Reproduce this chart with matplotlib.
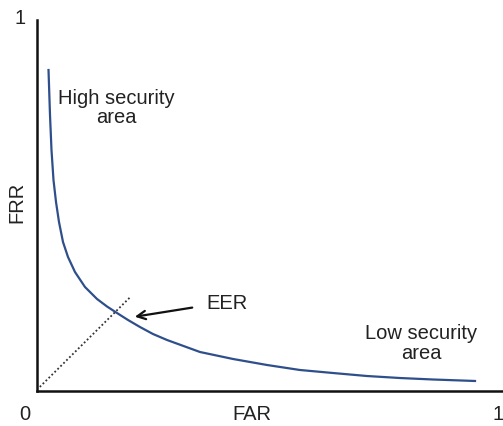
import matplotlib.pyplot as plt

plt.rcParams['font.family'] = ['Liberation Sans', 'DejaVu Sans']

# DET-style curve (FAR, FRR)
far = [0.0247, 0.0279, 0.0311, 0.0354, 0.0408, 0.0472, 0.0558, 0.0665,
       0.0815, 0.1030, 0.1288, 0.1502, 0.1717, 0.1953, 0.2210, 0.2489,
       0.2790, 0.3498, 0.4206, 0.4936, 0.5644, 0.6352, 0.7082, 0.7790,
       0.8498, 0.9399]
frr = [0.8652, 0.7439, 0.6496, 0.5687, 0.5094, 0.4555, 0.4016, 0.3612,
       0.3208, 0.2803, 0.2480, 0.2278, 0.2102, 0.1914, 0.1725, 0.1536,
       0.1375, 0.1051, 0.0863, 0.0701, 0.0566, 0.0485, 0.0404, 0.0350,
       0.0310, 0.0270]

# dotted guide towards the EER point
diag_x = [0.006, 0.200]
diag_y = [0.011, 0.253]

# EER arrow (tail -> head)
eer_tail = (0.339, 0.226)
eer_head = (0.204, 0.199)

fig = plt.figure(figsize=(5.03, 4.26), dpi=100)
ax = fig.add_axes([37 / 503, 35 / 426, 466 / 503, 371 / 426])

ax.plot(far, frr, color='#2f4f8c', lw=1.6, solid_joinstyle='round')
ax.plot(diag_x, diag_y, color='#333333', lw=1.3, linestyle=(0, (1, 1.3)))

ax.annotate('', xy=eer_head, xytext=eer_tail,
            arrowprops=dict(arrowstyle='->,head_length=0.6,head_width=0.3',
                            color='#111111', lw=1.6))

txt = dict(color='#222222', fontsize=14.5, clip_on=False)
ax.text(0.408, 0.235, 'EER', ha='center', va='center', **txt)
ax.text(0.170, 0.763, 'High security\narea', ha='center', va='center',
        linespacing=1.05, **txt)
ax.text(0.824, 0.129, 'Low security\narea', ha='center', va='center',
        linespacing=1.05, **txt)
ax.text(-0.026, -0.062, '0', ha='center', va='center', **txt)
ax.text(0.99, -0.062, '1', ha='center', va='center', **txt)
ax.text(-0.036, 1.003, '1', ha='center', va='center', **txt)
ax.text(0.461, -0.062, 'FAR', ha='center', va='center', **txt)
ax.text(-0.043, 0.509, 'FRR', ha='center', va='center', rotation=90, **txt)

ax.set_xlim(0, 1)
ax.set_ylim(0, 1)
ax.set_xticks([])
ax.set_yticks([])
for side in ['top', 'right']:
    ax.spines[side].set_visible(False)
for side in ['left', 'bottom']:
    ax.spines[side].set_linewidth(1.8)
    ax.spines[side].set_color('#111111')

fig.savefig('out.png', dpi=100)
